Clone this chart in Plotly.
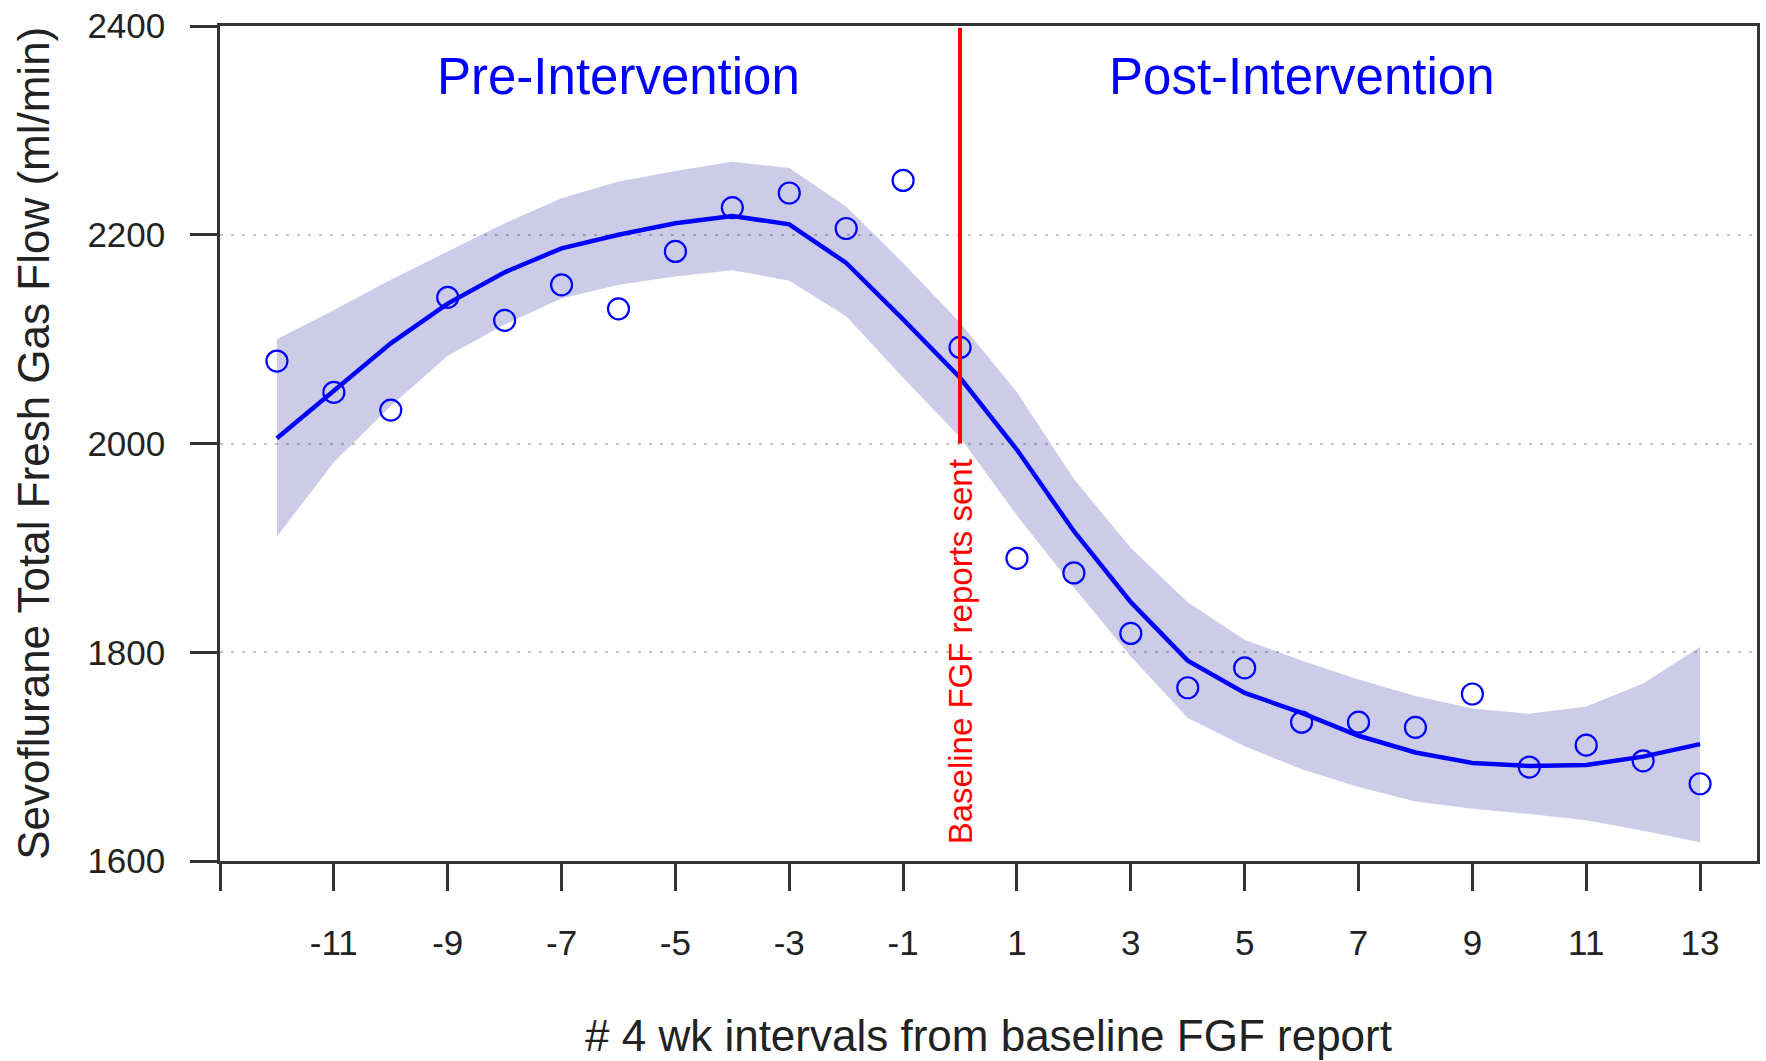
import plotly.graph_objects as go

# ---- data ----
interval = [-12, -11, -10, -9, -8, -7, -6, -5, -4, -3, -2, -1, 0,
            1, 2, 3, 4, 5, 6, 7, 8, 9, 10, 11, 12, 13]
observed = [2079, 2049, 2032, 2140, 2118, 2152, 2129, 2184, 2226, 2240, 2206, 2252, 2092,
            1890, 1876, 1818, 1766, 1785, 1733, 1733, 1728, 1760, 1690, 1711, 1696, 1674]
fitted = [2005, 2050, 2096, 2134, 2164, 2187, 2200, 2211, 2218, 2210, 2173, 2119, 2063,
          1994, 1916, 1848, 1792, 1761, 1742, 1720, 1704, 1694, 1691, 1692, 1700, 1712]
ci_upper = [2100, 2128, 2157, 2184, 2211, 2235, 2251, 2261, 2270, 2264, 2227, 2173, 2116,
            2049, 1966, 1900, 1848, 1812, 1792, 1774, 1758, 1746, 1741, 1748, 1770, 1805]
ci_lower = [1911, 1982, 2036, 2084, 2114, 2139, 2152, 2160, 2166, 2156, 2122, 2063, 2006,
            1931, 1862, 1796, 1737, 1710, 1688, 1671, 1657, 1650, 1645, 1639, 1629, 1618]

intervention_x = 0
intervention_line_y = [2000, 2398]
intervention_label_y = 1800
period_labels = ["Pre-Intervention", "Post-Intervention"]
period_label_x = [-6, 6]
period_label_y = 2352

x_tick_vals = [-13, -11, -9, -7, -5, -3, -1, 1, 3, 5, 7, 9, 11, 13]
x_tick_text = ["", "-11", "-9", "-7", "-5", "-3", "-1", "1", "3", "5", "7", "9", "11", "13"]
y_tick_vals = [1600, 1800, 2000, 2200, 2400]
x_range = [-13, 14]
y_range = [1600, 2400]

FONT = "Liberation Sans, Arial, Helvetica, sans-serif"
BLUE = "#0000FF"
AXIS = "#333333"

fig = go.Figure()

# confidence band
fig.add_trace(go.Scatter(
    x=interval + interval[::-1],
    y=ci_upper + ci_lower[::-1],
    fill="toself", fillcolor="rgba(0,0,139,0.2)",
    line=dict(width=0), mode="lines", hoverinfo="skip", showlegend=False))

# fitted curve
fig.add_trace(go.Scatter(
    x=interval, y=fitted, mode="lines",
    line=dict(color=BLUE, width=4.5), showlegend=False))

# observed points
fig.add_trace(go.Scatter(
    x=interval, y=observed, mode="markers",
    marker=dict(symbol="circle-open", size=21, color=BLUE, line=dict(width=2.2, color=BLUE)),
    showlegend=False))

# intervention line
fig.add_trace(go.Scatter(
    x=[intervention_x, intervention_x], y=intervention_line_y, mode="lines",
    line=dict(color="#FF0000", width=4), showlegend=False))

annotations = []
for txt, px in zip(period_labels, period_label_x):
    annotations.append(dict(x=px, y=period_label_y, xref="x", yref="y", text=txt,
                            showarrow=False, font=dict(family=FONT, size=51, color=BLUE),
                            xanchor="center", yanchor="middle"))
annotations.append(dict(x=intervention_x, y=intervention_label_y, xref="x", yref="y",
                        text="Baseline FGF reports sent", textangle=-90, showarrow=False,
                        font=dict(family=FONT, size=33, color="#FF0000"),
                        xanchor="center", yanchor="middle"))
# axis titles
annotations.append(dict(x=0.5, y=-0.209, xref="paper", yref="paper",
                        text="# 4 wk intervals from baseline FGF report", showarrow=False,
                        font=dict(family=FONT, size=44, color="#222222"),
                        xanchor="center", yanchor="middle"))
annotations.append(dict(x=-0.1215, y=0.5, xref="paper", yref="paper",
                        text="Sevoflurane Total Fresh Gas Flow (ml/min)", textangle=-90,
                        showarrow=False, font=dict(family=FONT, size=44, color="#222222"),
                        xanchor="center", yanchor="middle"))

fig.update_layout(
    width=1766, height=1061,
    margin=dict(l=220, r=6, t=21, b=200),
    paper_bgcolor="white", plot_bgcolor="white",
    font=dict(family=FONT, color="#222222"),
    annotations=annotations,
    showlegend=False,
)
fig.update_xaxes(
    range=x_range, tickmode="array", tickvals=x_tick_vals, ticktext=x_tick_text,
    ticks="outside", ticklen=27, tickwidth=2.5, tickcolor=AXIS,
    showline=True, linecolor=AXIS, linewidth=2.5, mirror=True,
    showgrid=False, zeroline=False,
    tickfont=dict(family=FONT, size=35, color="#222222"), ticklabelstandoff=22)
fig.update_yaxes(
    range=y_range, tickmode="array", tickvals=y_tick_vals,
    ticks="outside", ticklen=27, tickwidth=2.5, tickcolor=AXIS,
    showline=True, linecolor=AXIS, linewidth=2.5, mirror=True,
    showgrid=True, gridcolor="#C4C4C4", gridwidth=1.5, griddash="3px,8px",
    zeroline=False,
    tickfont=dict(family=FONT, size=35, color="#222222"), ticklabelstandoff=18)

fig.write_html(
    "out.html",
    config={"displayModeBar": False},
    post_script="document.body.style.margin='0';document.body.style.overflow='hidden';",
)
